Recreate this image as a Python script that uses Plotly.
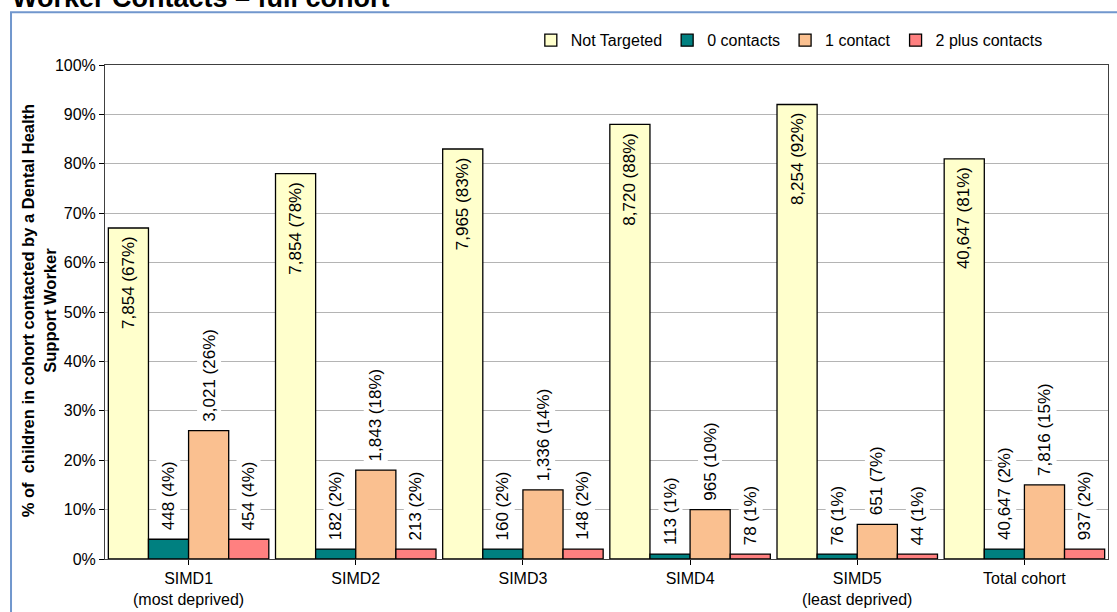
import plotly.graph_objects as go

# Deprivation groups (SIMD quintiles) plus the whole cohort
categories = ["SIMD1<br>(most deprived)", "SIMD2", "SIMD3", "SIMD4",
              "SIMD5<br>(least deprived)", "Total cohort"]

series_names = ["Not Targeted", "0 contacts", "1 contact", "2 plus contacts"]

# Percentage of children in each group
not_targeted_pct = [67, 78, 83, 88, 92, 81]
zero_contacts_pct = [4, 2, 2, 1, 1, 2]
one_contact_pct = [26, 18, 14, 10, 7, 15]
two_plus_pct = [4, 2, 2, 1, 1, 2]

# Number of children in each group
not_targeted_n = [7854, 7854, 7965, 8720, 8254, 40647]
zero_contacts_n = [448, 182, 160, 113, 76, 40647]
one_contact_n = [3021, 1843, 1336, 965, 651, 7816]
two_plus_n = [454, 213, 148, 78, 44, 937]

y_ticks = [0, 10, 20, 30, 40, 50, 60, 70, 80, 90, 100]

pct_series = [not_targeted_pct, zero_contacts_pct, one_contact_pct, two_plus_pct]
n_series = [not_targeted_n, zero_contacts_n, one_contact_n, two_plus_n]
colors = ["#FFFFCC", "#008080", "#FAC090", "#FF8080"]

FONT = "Arial, Liberation Sans, sans-serif"
BAR_W = 0.24
offsets = [-0.48, -0.24, 0.0, 0.24]
x_pos = list(range(len(categories)))

fig = go.Figure()
for name, pct, col, off in zip(series_names, pct_series, colors, offsets):
    fig.add_trace(go.Bar(
        name=name, x=x_pos, y=pct, width=BAR_W, offset=off,
        marker=dict(color=col, line=dict(color="#000000", width=1.3)),
        hoverinfo="skip",
    ))

# Data labels: count and percentage, rotated
annotations = []
for s, (pct, counts, off) in enumerate(zip(pct_series, n_series, offsets)):
    for i, (p, n) in enumerate(zip(pct, counts)):
        label = f"{n:,} ({p}%)"
        xc = i + off + BAR_W / 2
        if s == 0:
            annotations.append(dict(
                x=xc, y=p, xref="x", yref="y", text=label, textangle=-90,
                showarrow=False, yanchor="top", xanchor="center", yshift=-6,
                font=dict(family=FONT, size=17, color="#000000")))
        else:
            annotations.append(dict(
                x=xc, y=p, xref="x", yref="y", text=label, textangle=-90,
                showarrow=False, yanchor="bottom", xanchor="center", yshift=6,
                bgcolor="#FFFFFF", borderpad=2,
                font=dict(family=FONT, size=17, color="#000000")))

# Chart heading (partly above the page) and the y axis title
annotations.append(dict(
    text="<b>Worker Contacts – full cohort</b>", xref="paper", yref="paper",
    x=-0.095, y=1.101, xanchor="left", yanchor="bottom", showarrow=False,
    font=dict(family=FONT, size=27, color="#000000")))
annotations.append(dict(
    text="<b>% of&nbsp; children in cohort contacted by a Dental Health<br>Support Worker</b>",
    xref="paper", yref="paper", x=-0.066, y=0.503, xanchor="center", yanchor="middle",
    textangle=-90, showarrow=False, align="center",
    font=dict(family=FONT, size=16.5, color="#000000")))

fig.update_layout(
    width=1117, height=612,
    margin=dict(l=105, r=9, t=65, b=53, autoexpand=False),
    paper_bgcolor="#FFFFFF", plot_bgcolor="#FFFFFF",
    barmode="overlay",
    font=dict(family=FONT, size=16, color="#000000"),
    showlegend=True,
    legend=dict(orientation="h", x=0.94, xanchor="right", y=1.05, yanchor="middle",
                font=dict(family=FONT, size=16, color="#000000"),
                bgcolor="rgba(0,0,0,0)", traceorder="normal"),
    annotations=annotations,
    shapes=[dict(type="rect", xref="paper", yref="paper",
                 x0=-0.0937, x1=1.05, y0=-0.3, y1=1.107,
                 line=dict(color="#7197CD", width=2), layer="below")],
)

fig.update_xaxes(
    range=[-0.5, 5.5], tickmode="array", tickvals=x_pos, ticktext=categories,
    ticks="outside", ticklen=5, tickcolor="#000000", automargin=False,
    showline=True, linecolor="#404040", linewidth=1, mirror=True,
    showgrid=False, zeroline=False,
    tickfont=dict(family=FONT, size=16, color="#000000"),
)
fig.update_yaxes(
    range=[0, 100], tickmode="array", tickvals=y_ticks,
    ticktext=[f"{v}%" for v in y_ticks], automargin=False,
    ticks="outside", ticklen=5, tickcolor="#000000",
    showline=True, linecolor="#404040", linewidth=1, mirror=True,
    showgrid=True, gridcolor="#B4B4B4", gridwidth=1, zeroline=False,
    tickfont=dict(family=FONT, size=16, color="#000000"),
)

fig.write_html("out.html")
